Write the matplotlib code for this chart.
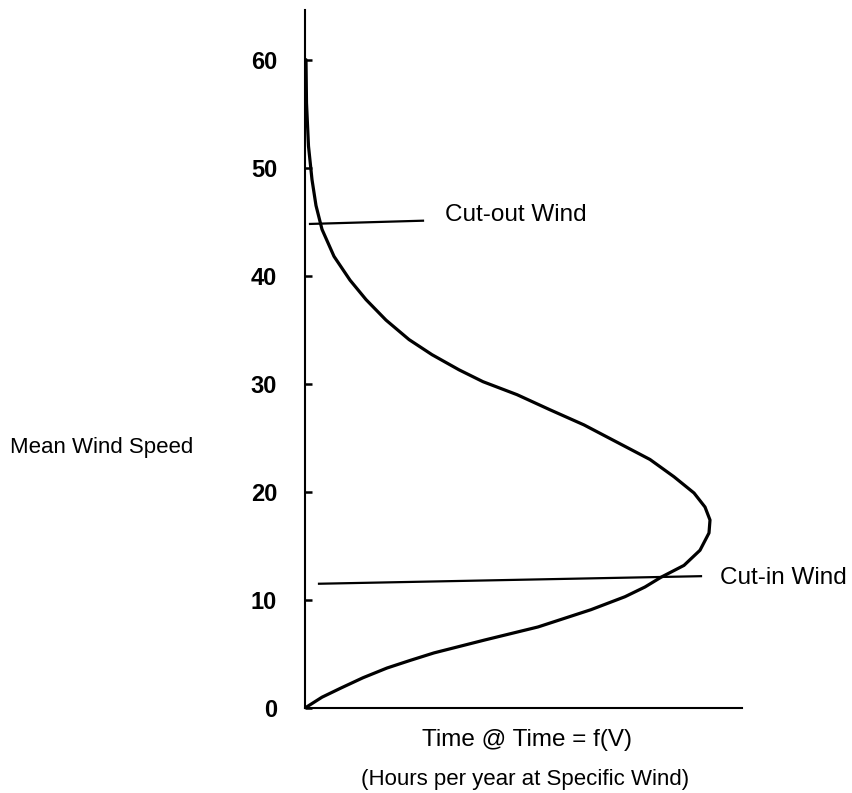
import numpy as np
import matplotlib.pyplot as plt

plt.rcParams['font.family'] = ['Liberation Sans', 'DejaVu Sans']

# wind speed vs time (time in arbitrary units)
speed = [0, 1.0, 1.85, 2.8, 3.7, 4.4, 5.1, 6.3, 7.5, 9.1, 10.3, 11.2, 12.1, 13.2, 14.6,
         16.2, 17.4, 18.6, 19.9, 21.4, 23.0, 24.6, 26.2, 27.6, 29.0, 30.2,
         31.3, 32.7, 34.1, 35.9, 37.8, 39.6, 41.8, 44.3, 46.5, 48.9, 52.0, 56.0, 60.0]
hours = [0, 17, 36, 58, 82, 105, 129, 180, 233, 286, 320, 340, 356, 379, 395,
         404, 405, 400, 389, 369, 345, 312, 279, 245, 212, 178,
         154, 127, 104, 81, 61, 45, 29, 17, 11, 7, 3.5, 1.5, 1]

cut_out_x = [5, 118]
cut_out_y = [44.8, 45.1]
cut_in_x = [14, 396]
cut_in_y = [11.5, 12.2]

yticks = [0, 10, 20, 30, 40, 50, 60]

fig = plt.figure(figsize=(8.52, 7.93), dpi=100)
ax = fig.add_axes([305 / 852, 85 / 793, 437 / 852, 698 / 793])

ax.plot(hours, speed, color='black', lw=2.3, solid_capstyle='round',
        solid_joinstyle='round')
ax.plot(cut_out_x, cut_out_y, color='black', lw=1.6)
ax.plot(cut_in_x, cut_in_y, color='black', lw=1.6)

ax.set_xlim(0, 437)
ax.set_ylim(0, 64.6)
ax.spines['top'].set_visible(False)
ax.spines['right'].set_visible(False)
ax.spines['left'].set_linewidth(1.5)
ax.spines['bottom'].set_linewidth(1.5)
ax.set_xticks([])
ax.set_yticks(yticks)
ax.set_yticklabels([str(t) for t in yticks], fontsize=17, fontweight='bold')
ax.tick_params(axis='y', direction='in', length=5, width=1.8, pad=20)

ax.text(140, 45.6, 'Cut-out Wind', fontsize=17.5, va='center', ha='left')
ax.text(415, 12.0, 'Cut-in Wind', fontsize=17.5, va='center', ha='left')

fig.text(10 / 852, 1 - 447 / 793, 'Mean Wind Speed', fontsize=16, va='center', ha='left')
fig.text(527 / 852, 1 - 740 / 793, 'Time @ Time = f(V)', fontsize=17.5, va='center', ha='center')
fig.text(525 / 852, 1 - 779 / 793, '(Hours per year at Specific Wind)', fontsize=16,
         va='center', ha='center')

fig.savefig('out.png', dpi=100)
